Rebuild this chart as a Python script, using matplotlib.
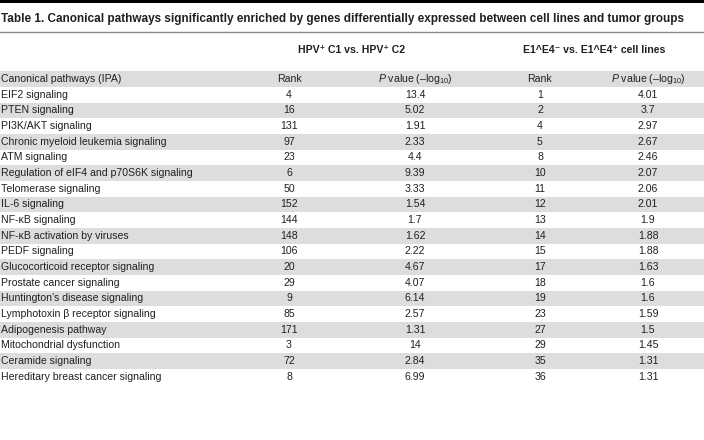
import matplotlib
matplotlib.use("Agg")
import matplotlib.pyplot as plt

FONT = ["Liberation Sans Narrow", "Liberation Sans", "DejaVu Sans"]
plt.rcParams["font.family"] = FONT
plt.rcParams["mathtext.fontset"] = "custom"
plt.rcParams["mathtext.rm"] = "Liberation Sans"
plt.rcParams["mathtext.it"] = "Liberation Sans:italic"

title = ("Table 1. Canonical pathways significantly enriched by genes differentially "
         "expressed between cell lines and tumor groups")
group_headers = ["HPV\u207a C1 vs. HPV\u207a C2", "E1^E4\u207b vs. E1^E4\u207a cell lines"]
col_headers = ["Canonical pathways (IPA)", "Rank", "$P$ value (\u2013log$_{10}$)",
               "Rank", "$P$ value (\u2013log$_{10}$)"]

pathways = [
    "EIF2 signaling", "PTEN signaling", "PI3K/AKT signaling",
    "Chronic myeloid leukemia signaling", "ATM signaling",
    "Regulation of eIF4 and p70S6K signaling", "Telomerase signaling",
    "IL-6 signaling", "NF-\u03baB signaling", "NF-\u03baB activation by viruses",
    "PEDF signaling", "Glucocorticoid receptor signaling",
    "Prostate cancer signaling", "Huntington\u2019s disease signaling",
    "Lymphotoxin \u03b2 receptor signaling", "Adipogenesis pathway",
    "Mitochondrial dysfunction", "Ceramide signaling",
    "Hereditary breast cancer signaling",
]
rank_hpv = ["4", "16", "131", "97", "23", "6", "50", "152", "144", "148",
            "106", "20", "29", "9", "85", "171", "3", "72", "8"]
pval_hpv = ["13.4", "5.02", "1.91", "2.33", "4.4", "9.39", "3.33", "1.54", "1.7",
            "1.62", "2.22", "4.67", "4.07", "6.14", "2.57", "1.31", "14", "2.84", "6.99"]
rank_e1e4 = ["1", "2", "4", "5", "8", "10", "11", "12", "13", "14",
             "15", "17", "18", "19", "23", "27", "29", "35", "36"]
pval_e1e4 = ["4.01", "3.7", "2.97", "2.67", "2.46", "2.07", "2.06", "2.01", "1.9",
             "1.88", "1.88", "1.63", "1.6", "1.6", "1.59", "1.5", "1.45", "1.31", "1.31"]

W, H = 704, 440
fig = plt.figure(figsize=(W / 100, H / 100), dpi=100)
ax = fig.add_axes([0, 0, 1, 1])
ax.set_xlim(0, W)
ax.set_ylim(H, 0)
ax.axis("off")

txt = "#231f20"
band = "#dcdddf"
fs = 7.6

# top rule and title
ax.axhspan(0, 3.5, color="black", lw=0)
ax.text(1, 19, title, fontsize=8.5, fontweight="bold", color=txt, va="center", ha="left")
ax.axhline(32.5, color="#8a8a8a", lw=1)

col_x = [1, 289, 415, 540, 648]
group_x = [(col_x[1] + col_x[2]) / 2, (col_x[3] + col_x[4]) / 2]

for gx, g in zip(group_x, group_headers):
    ax.text(gx, 50, g, fontsize=fs, fontweight="bold", color=txt, ha="center", va="center")

# header row
row_h = 15.67
head_y = 79
ax.axhspan(head_y - row_h / 2, head_y + row_h / 2, color=band, lw=0)
for i, (x, h) in enumerate(zip(col_x, col_headers)):
    ax.text(x, head_y, h, fontsize=fs, color=txt, va="center",
            ha="left" if i == 0 else "center")

# body rows
for i, name in enumerate(pathways):
    y = head_y + (i + 1) * row_h
    if i % 2 == 1:
        ax.axhspan(y - row_h / 2, y + row_h / 2, color=band, lw=0)
    vals = [name, rank_hpv[i], pval_hpv[i], rank_e1e4[i], pval_e1e4[i]]
    for j, (x, v) in enumerate(zip(col_x, vals)):
        ax.text(x, y, v, fontsize=fs, color=txt, va="center",
                ha="left" if j == 0 else "center")

fig.savefig("out.png", dpi=100)
